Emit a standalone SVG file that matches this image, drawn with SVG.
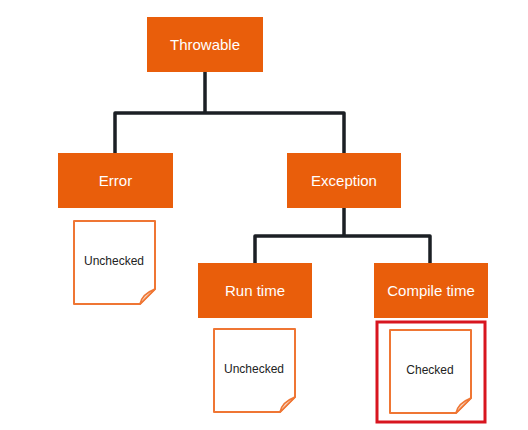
<svg xmlns="http://www.w3.org/2000/svg" width="528" height="430" viewBox="0 0 528 430">
<style>
.box{fill:#e95e0b}
.lbl{font-family:"Liberation Sans",Arial,sans-serif;font-size:15px;fill:#fff;text-anchor:middle}
.note{fill:#fff;stroke:#ef7634;stroke-width:2;stroke-linejoin:round}
.fold{fill:#f6d6c2;stroke:#ef7634;stroke-width:1.5;stroke-linejoin:round}
.nt{font-family:"Liberation Sans",Arial,sans-serif;font-size:12px;fill:#222;text-anchor:middle}
.ln{fill:none;stroke:#1b1f24;stroke-width:3.5;stroke-linejoin:round}
</style>
<defs>
<g id="noteShape">
<path class="note" d="M0,0 H81 V68 L66,83 H0 Z"/>
<path class="fold" d="M81,68 L66,83 Q68,73 81,68 Z"/>
</g>
</defs>
<rect width="528" height="430" fill="#fff"/>
<g id="connectors">
<path class="ln" d="M205,72 V113 M115,153 V113 H344 V153"/>
<path class="ln" d="M344,208 V236 M255,263 V236 H430 V263"/>
</g>
<g id="throwable"><rect class="box" x="147" y="17" width="116" height="55"/><text class="lbl" x="205" y="50">Throwable</text></g>
<g id="error"><rect class="box" x="58" y="153" width="115" height="55"/><text class="lbl" x="115.5" y="186">Error</text></g>
<g id="exception"><rect class="box" x="287" y="153" width="114" height="55"/><text class="lbl" x="344" y="186">Exception</text></g>
<g id="runtime"><rect class="box" x="198" y="263" width="114" height="55"/><text class="lbl" x="255" y="296">Run time</text></g>
<g id="compiletime"><rect class="box" x="374" y="263" width="114" height="55"/><text class="lbl" x="431" y="296">Compile time</text></g>
<g id="note-error"><use href="#noteShape" x="74" y="221"/><text class="nt" x="114" y="265">Unchecked</text></g>
<g id="note-runtime"><use href="#noteShape" x="214" y="329"/><text class="nt" x="254" y="373">Unchecked</text></g>
<g id="note-compile"><rect x="377" y="322" width="108" height="100" fill="none" stroke="#d8151f" stroke-width="3"/><use href="#noteShape" x="390" y="330"/><text class="nt" x="430" y="374">Checked</text></g>
</svg>
